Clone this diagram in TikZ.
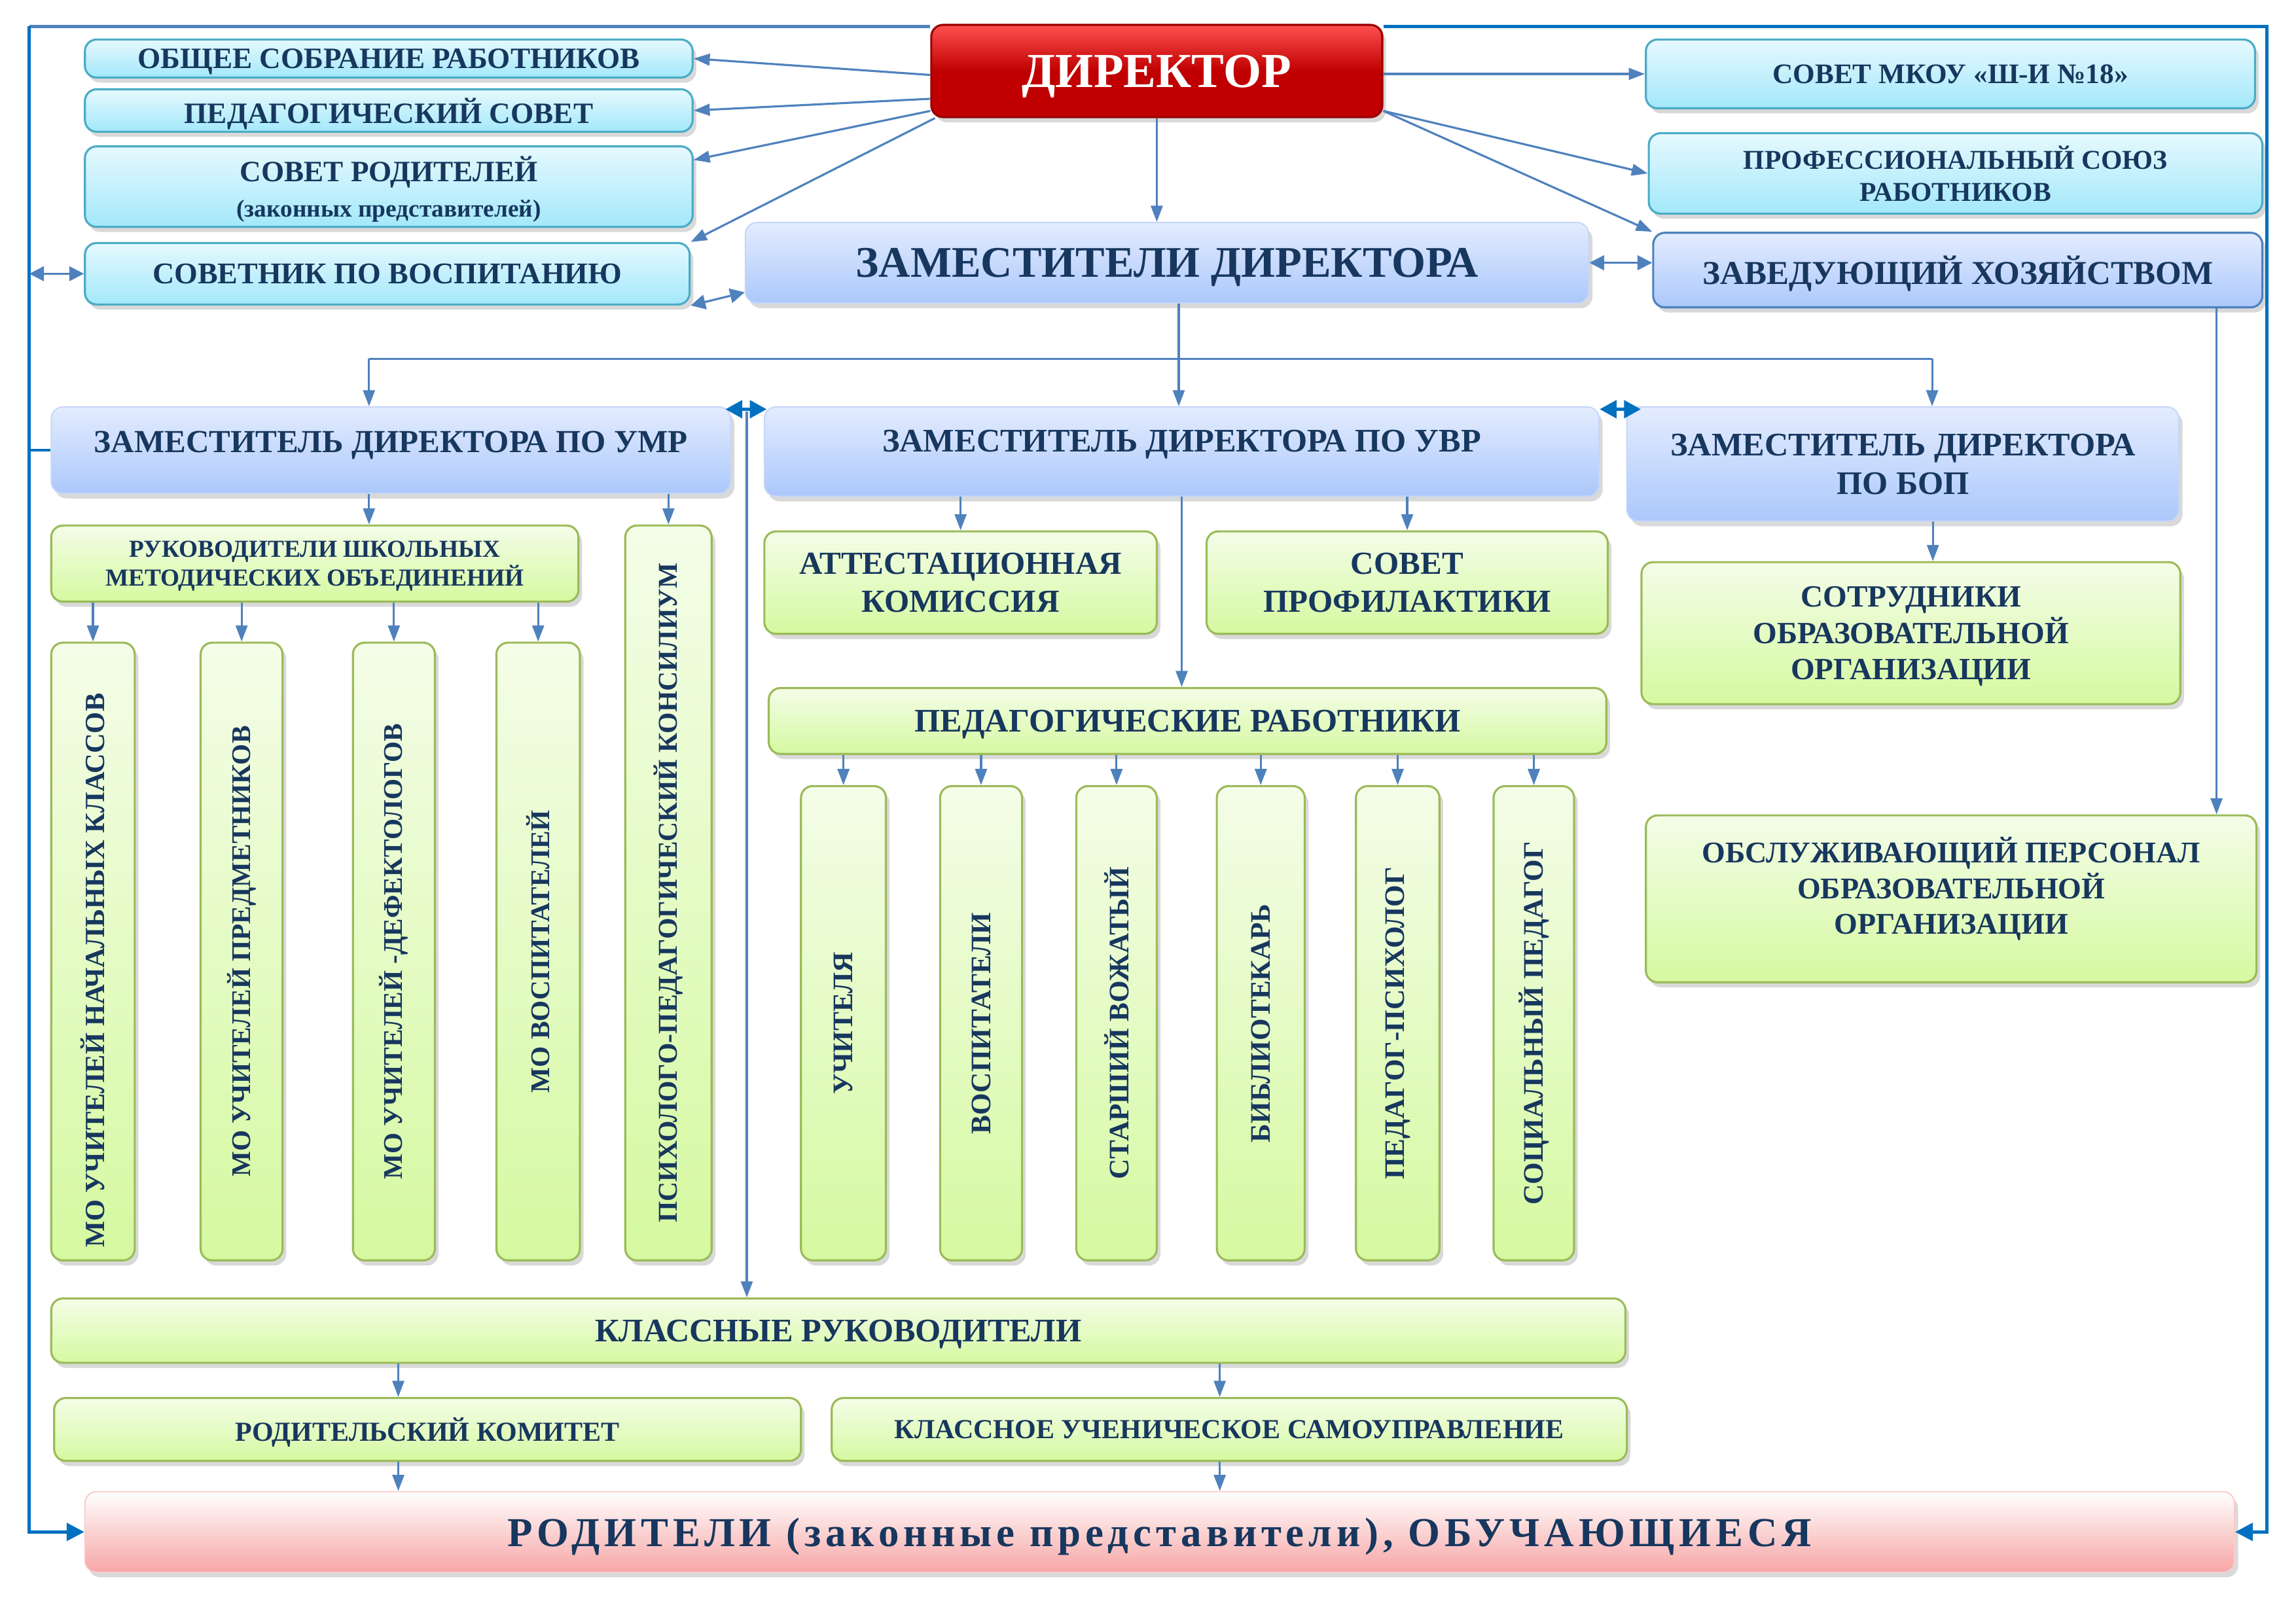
\documentclass[tikz,border=0pt]{standalone}
\usepackage{fontspec}
\usepackage{graphicx}
\setmainfont{Liberation Serif}
\newfontfamily\spacedfont[LetterSpace=11]{Liberation Serif}
\usetikzlibrary{arrows.meta,shadows}

\definecolor{inkblue}{HTML}{17375E}
\definecolor{arrowblue}{HTML}{4F81BD}
\definecolor{framblue}{HTML}{0070C0}
\definecolor{cyantop}{HTML}{E6F9FE}
\definecolor{cyanbot}{HTML}{A3E8FA}
\definecolor{cyanedge}{HTML}{4BACC6}
\definecolor{bluetop}{HTML}{E4ECFE}
\definecolor{bluebot}{HTML}{ABC8FB}
\definecolor{blueedge}{HTML}{C5D6F8}
\definecolor{greentop}{HTML}{F4FDE8}
\definecolor{greenbot}{HTML}{D5F9A0}
\definecolor{greenedge}{HTML}{9BBB59}
\definecolor{redtop}{HTML}{FF5050}
\definecolor{redbot}{HTML}{C00000}
\definecolor{pinkbot}{HTML}{F7A6A6}

\newcommand\boxfont[1]{\fontsize{#1}{\fpeval{1.18*#1}}\selectfont\bfseries}

\tikzset{
  box/.style={rounded corners=1.6mm, text=inkblue, align=center, inner sep=1pt,
    text depth=0pt, font=\boxfont{11.5},
    drop shadow={shadow xshift=0.5mm, shadow yshift=-0.7mm, opacity=0.3}},
  cyanbox/.style={box, draw=cyanedge, line width=0.8pt, top color=cyantop, bottom color=cyanbot},
  bluebox/.style={box, draw=blueedge, line width=0.5pt, top color=bluetop, bottom color=bluebot},
  greenbox/.style={box, draw=greenedge, line width=0.8pt, top color=greentop, bottom color=greenbot},
  redbox/.style={box, draw=redbot!80!black, line width=0.8pt, top color=redtop, bottom color=redbot,
    middle color=redbot, text=white, font=\boxfont{19}},
  pinkbox/.style={box, draw=pinkbot!60, line width=0.5pt, top color=white, bottom color=pinkbot},
  line/.style={draw=arrowblue, line width=0.8pt},
  conn/.style={line, -{Triangle[length=2.2mm,width=1.6mm]}},
  both/.style={line, {Triangle[length=2mm,width=2mm]}-{Triangle[length=2mm,width=2mm]}},
  bothbright/.style={draw=framblue, line width=1.3pt, {Triangle[length=2.3mm,width=2.4mm]}-{Triangle[length=2.3mm,width=2.4mm]}},
  frame/.style={draw=framblue, line width=1.3pt},
}

\begin{document}
\begin{tikzpicture}[x=0.2mm, y=-0.2mm]
\useasboundingbox (0,0) rectangle (1568,1109);
\coordinate (tl) at (20,18);
\coordinate (tr) at (1548,18);

% top level
\node[redbox, minimum width=61.6mm, minimum height=12.6mm] (dir) at (790,48.5) {ДИРЕКТОР};
\node[cyanbox, minimum width=83mm, minimum height=5.2mm] (obsh) at (265.5,40) {ОБЩЕЕ СОБРАНИЕ РАБОТНИКОВ};
\node[cyanbox, minimum width=83mm, minimum height=5.8mm] (pedsov) at (265.5,75.5) {ПЕДАГОГИЧЕСКИЙ СОВЕТ};
\node[cyanbox, minimum width=83mm, minimum height=11mm] (sovrod) at (265.5,127.5)
  {СОВЕТ РОДИТЕЛЕЙ\\{\boxfont{9.5}(законных представителей)}};
\node[cyanbox, minimum width=82.6mm, minimum height=8.4mm, font=\boxfont{11.7}] (sovetnik) at (264.5,187) {СОВЕТНИК ПО ВОСПИТАНИЮ};
\node[cyanbox, minimum width=83.2mm, minimum height=9.4mm, font=\boxfont{11}] (mkou) at (1332,50.5) {СОВЕТ МКОУ «Ш-И №18»};
\node[cyanbox, minimum width=83.8mm, minimum height=11mm, font=\boxfont{10.6}] (prof) at (1335.5,118.5) {ПРОФЕССИОНАЛЬНЫЙ СОЮЗ\\РАБОТНИКОВ};
\node[bluebox, draw=arrowblue, line width=0.8pt, minimum width=83.2mm, minimum height=10.2mm, font=\boxfont{13}] (zavhoz) at (1337,184.5) {ЗАВЕДУЮЩИЙ ХОЗЯЙСТВОМ};
\node[bluebox, minimum width=115.2mm, minimum height=11mm, font=\boxfont{17}] (zams) at (797,179.5) {ЗАМЕСТИТЕЛИ ДИРЕКТОРА};

% deputies
\node[bluebox, minimum width=92.8mm, minimum height=11.8mm, text depth=2.2mm, font=\boxfont{12.5}] (umr) at (267,307.5) {ЗАМЕСТИТЕЛЬ ДИРЕКТОРА ПО УМР};
\node[bluebox, minimum width=114mm, minimum height=12.2mm, text depth=3mm, font=\boxfont{12.8}] (uvr) at (807,308.5) {ЗАМЕСТИТЕЛЬ ДИРЕКТОРА ПО УВР};
\node[bluebox, minimum width=75.4mm, minimum height=15.6mm, font=\boxfont{12.8}] (bop) at (1299.5,317) {ЗАМЕСТИТЕЛЬ ДИРЕКТОРА\\ПО БОП};

% methodical branch
\node[greenbox, minimum width=72mm, minimum height=10.4mm, font=\boxfont{9.5}] (shmo) at (215,385) {РУКОВОДИТЕЛИ ШКОЛЬНЫХ\\МЕТОДИЧЕСКИХ ОБЪЕДИНЕНИЙ};
\node[greenbox, minimum width=11.8mm, minimum height=100.4mm, font=\boxfont{10.6}] (ppk) at (456.5,610) {\rotatebox{90}{ПСИХОЛОГО-ПЕДАГОГИЧЕСКИЙ КОНСИЛИУМ}};
\node[greenbox, minimum width=11.4mm, minimum height=84.4mm, font=\boxfont{10.8}] (mo1) at (63.5,650) {\rotatebox{90}{МО УЧИТЕЛЕЙ НАЧАЛЬНЫХ КЛАССОВ\hspace*{5.2mm}}};
\node[greenbox, minimum width=11.2mm, minimum height=84.4mm, font=\boxfont{10.5}] (mo2) at (165,650) {\rotatebox{90}{МО УЧИТЕЛЕЙ ПРЕДМЕТНИКОВ}};
\node[greenbox, minimum width=11.2mm, minimum height=84.4mm, font=\boxfont{10.5}] (mo3) at (269,650) {\rotatebox{90}{МО УЧИТЕЛЕЙ -ДЕФЕКТОЛОГОВ}};
\node[greenbox, minimum width=11.4mm, minimum height=84.4mm, font=\boxfont{10.5}] (mo4) at (367.5,650) {\rotatebox{90}{МО ВОСПИТАТЕЛЕЙ}};

% educational branch
\node[greenbox, minimum width=53.6mm, minimum height=14mm, font=\boxfont{12.5}] (att) at (656,398) {АТТЕСТАЦИОННАЯ\\КОМИССИЯ};
\node[greenbox, minimum width=54.8mm, minimum height=14mm, font=\boxfont{12.5}] (sovprof) at (961,398) {СОВЕТ\\ПРОФИЛАКТИКИ};
\node[greenbox, minimum width=114.4mm, minimum height=9mm, font=\boxfont{12.8}] (pedrab) at (811,492.5) {ПЕДАГОГИЧЕСКИЕ РАБОТНИКИ};
\node[greenbox, minimum width=11.6mm, minimum height=64.8mm, font=\boxfont{11}] (r1) at (576,699) {\rotatebox{90}{УЧИТЕЛЯ}};
\node[greenbox, minimum width=11.2mm, minimum height=64.8mm, font=\boxfont{11}] (r2) at (670,699) {\rotatebox{90}{ВОСПИТАТЕЛИ}};
\node[greenbox, minimum width=11mm, minimum height=64.8mm, font=\boxfont{11}] (r3) at (762.5,699) {\rotatebox{90}{СТАРШИЙ ВОЖАТЫЙ}};
\node[greenbox, minimum width=12mm, minimum height=64.8mm, font=\boxfont{11}] (r4) at (861,699) {\rotatebox{90}{БИБЛИОТЕКАРЬ}};
\node[greenbox, minimum width=11.4mm, minimum height=64.8mm, font=\boxfont{11}] (r5) at (954.5,699) {\rotatebox{90}{ПЕДАГОГ-ПСИХОЛОГ}};
\node[greenbox, minimum width=11mm, minimum height=64.8mm, font=\boxfont{11}] (r6) at (1047.5,699) {\rotatebox{90}{СОЦИАЛЬНЫЙ ПЕДАГОГ}};

% safety branch
\node[greenbox, minimum width=73.6mm, minimum height=19.4mm, font=\boxfont{12}] (sotr) at (1305,432.5) {СОТРУДНИКИ\\ОБРАЗОВАТЕЛЬНОЙ\\ОРГАНИЗАЦИИ};
\node[greenbox, minimum width=83.4mm, minimum height=22.8mm, text depth=3.6mm, font=\boxfont{11.7}] (obsl) at (1332.5,614) {ОБСЛУЖИВАЮЩИЙ ПЕРСОНАЛ\\ОБРАЗОВАТЕЛЬНОЙ\\ОРГАНИЗАЦИИ};

% classes
\node[greenbox, minimum width=215mm, minimum height=8.8mm, font=\boxfont{12.8}] (klruk) at (572.5,909) {КЛАССНЫЕ РУКОВОДИТЕЛИ};
\node[greenbox, minimum width=102mm, minimum height=8.6mm, font=\boxfont{10.7}] (rodkom) at (292,976.5) {РОДИТЕЛЬСКИЙ КОМИТЕТ};
\node[greenbox, minimum width=108.6mm, minimum height=8.6mm, font=\boxfont{10.7}] (uchsam) at (839.5,976.5) {КЛАССНОЕ УЧЕНИЧЕСКОЕ САМОУПРАВЛЕНИЕ};
\node[pinkbox, minimum width=293.6mm, minimum height=11mm, font={\spacedfont\bfseries\fontsize{16}{19}\selectfont}] (rodit) at (792,1046.5) {РОДИТЕЛИ (законные представители), ОБУЧАЮЩИЕСЯ};

% outer frame
\draw[line, line width=1.3pt] (dir.north west |- tl) -- (tl);
\draw[frame, -{Triangle[length=2.4mm,width=2.4mm]}] (tl) |- (rodit.west);
\draw[frame, -{Triangle[length=2.4mm,width=2.4mm]}] (dir.north east |- tr) -- (tr) |- (rodit.east);
\draw[frame, line width=0.8pt] (umr.west -| tl) -- (umr.west);
\draw[both] (sovetnik.west -| tl) -- (sovetnik.west);

% director links
\draw[conn] (dir.181) -- (obsh.east);
\draw[conn] (dir.187) -- (pedsov.east);
\draw[conn] (dir.190) -- (sovrod.5);
\draw[conn] (dir.192) -- (sovetnik.north east);
\draw[conn] (dir.east |- mkou.west) -- (mkou.west);
\draw[conn] (dir.350) -- (prof.west);
\draw[conn] (dir.350) -- (zavhoz.north west);
\draw[conn] (dir.south) -- (dir.south |- zams.north);
\draw[both] (zams.184) -- (sovetnik.south east);
\draw[both] (zams.east) -- (zams.east -| zavhoz.west);

% deputies
\coordinate (hub) at (805,245);
\coordinate (um) at (510,281);
\draw[line] (zams.south -| hub) -- (hub);
\draw[line] ([xshift=-3mm]umr.north |- hub) -- ([xshift=4mm]bop.north |- hub);
\draw[conn] ([xshift=-3mm]umr.north |- hub) -- ([xshift=-3mm]umr.north);
\draw[conn] (hub) -- (hub |- uvr.north);
\draw[conn] ([xshift=4mm]bop.north |- hub) -- ([xshift=4mm]bop.north);
\draw[conn] (um) -- (um |- klruk.north);
\draw[bothbright] ([xshift=-0.8mm, yshift=-0.4mm]umr.north east) -- ([xshift=0.4mm, yshift=-0.4mm]uvr.north west);
\draw[bothbright] ([yshift=-0.4mm]uvr.north east) -- ([xshift=2mm, yshift=-0.4mm]bop.north west);

% methodical links
\draw[conn] ([xshift=-3mm]umr.south) -- ([xshift=-3mm]umr.south |- shmo.north);
\draw[conn] (ppk.north |- umr.south) -- (ppk.north);
\foreach \i in {1,...,4}
  \draw[conn] (mo\i.north |- shmo.south) -- (mo\i.north);

% educational links
\draw[conn] (att.north |- uvr.south) -- (att.north);
\draw[conn] (sovprof.north |- uvr.south) -- (sovprof.north);
\draw[conn] (uvr.south) -- (uvr.south |- pedrab.north);
\foreach \i in {1,...,6}
  \draw[conn] (r\i.north |- pedrab.south) -- (r\i.north);

% safety links
\draw[conn] ([xshift=3mm]sotr.north |- bop.south) -- ([xshift=3mm]sotr.north);
\draw[conn] ([xshift=-5.6mm]obsl.north east |- zavhoz.south) -- ([xshift=-5.6mm]obsl.north east);

% class links
\draw[conn] ([xshift=-4mm]rodkom.north |- klruk.south) -- ([xshift=-4mm]rodkom.north);
\draw[conn] ([xshift=-1.3mm]uchsam.north |- klruk.south) -- ([xshift=-1.3mm]uchsam.north);
\draw[conn] ([xshift=-4mm]rodkom.south) -- ([xshift=-4mm]rodkom.south |- rodit.north);
\draw[conn] ([xshift=-1.3mm]uchsam.south) -- ([xshift=-1.3mm]uchsam.south |- rodit.north);
\end{tikzpicture}
\end{document}
